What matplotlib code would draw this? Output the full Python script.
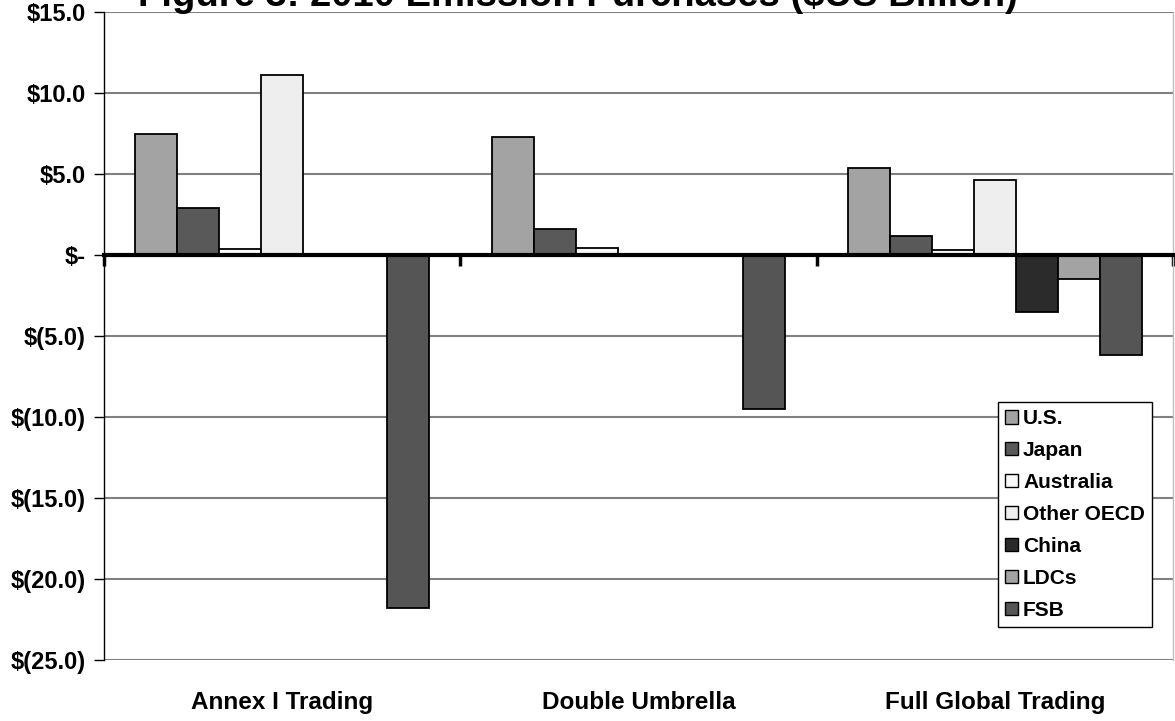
import matplotlib.pyplot as plt
import matplotlib.patches as mpatches
import numpy as np

# Dados (US$ mil milhões)
scenarios = ["Annex I Trading", "Double Umbrella", "Full Global Trading"]
regions = ["U.S.", "Japan", "Australia", "Other OECD", "China", "LDCs", "FSB"]
us = [7.45, 7.27, 5.34]
japan = [2.91, 1.60, 1.17]
australia = [0.39, 0.41, 0.30]
other_oecd = [11.13, 0.0, 4.66]
china = [0.0, 0.0, -3.53]
ldcs = [0.0, 0.0, -1.50]
fsb = [-21.8, -9.48, -6.16]
yticks = [15, 10, 5, 0, -5, -10, -15, -20, -25]
ytick_labels = ["$15.0", "$10.0", "$5.0", "$-", "$(5.0)", "$(10.0)",
                "$(15.0)", "$(20.0)", "$(25.0)"]

series = [us, japan, australia, other_oecd, china, ldcs, fsb]
colors = ["#a3a3a3", "#595959", "#f8f8f8", "#eeeeee", "#2b2b2b", "#a3a3a3", "#555555"]

plt.rcParams['font.family'] = ['Liberation Sans', 'DejaVu Sans']
plt.rcParams['font.weight'] = 'bold'

fig = plt.figure(figsize=(11.75, 7.21), dpi=100)
ax = fig.add_axes([104 / 1175, 1 - 660 / 721, 1069 / 1175, 648 / 721])

x = np.arange(len(scenarios))
w = 1 / 8.5
for i, (vals, c) in enumerate(zip(series, colors)):
    ax.bar(x + (i - 3) * w, vals, width=w, color=c, edgecolor="black",
           linewidth=1.3, zorder=3, label=regions[i])

ax.set_xlim(-0.5, 2.5)
ax.set_ylim(-25, 15)
ax.set_yticks(yticks)
ax.set_yticklabels(ytick_labels, fontsize=17, fontweight="bold")
ax.tick_params(axis="y", direction="out", length=7, width=1, pad=6)
ax.yaxis.grid(True, color="#808080", linewidth=1.5, zorder=0)

# eixo x na linha do zero, com marcas entre categorias
ax.spines["bottom"].set_position(("data", 0))
ax.spines["bottom"].set_linewidth(3)
ax.spines["bottom"].set_zorder(4)
ax.spines["top"].set_visible(False)
ax.spines["right"].set_color("#c0c0c0")
ax.spines["right"].set_linewidth(1)
ax.spines["left"].set_linewidth(1)
ax.set_xticks([-0.5, 0.5, 1.5, 2.5])
ax.set_xticklabels([])
ax.tick_params(axis="x", direction="out", length=8, width=2.5)

for xi, name in zip(x, scenarios):
    ax.text(xi, -0.066, name, transform=ax.get_xaxis_transform(),
            ha="center", va="center", fontsize=17.5, fontweight="bold")

fig.text(578 / 1175, 1 - 6 / 721, "Figure 3: 2010 Emission Purchases ($US Billion)",
         ha="center", va="baseline", fontsize=27.5, fontweight="bold")

handles = [mpatches.Patch(facecolor=c, edgecolor="black", label=r)
           for r, c in zip(regions, colors)]
leg = ax.legend(handles=handles, loc="upper left",
                bbox_to_anchor=(998 / 1175, 1 - 402 / 721),
                bbox_transform=fig.transFigure,
                prop={"size": 15, "weight": "bold"},
                handlelength=0.6, handleheight=0.6, handletextpad=0.25,
                labelspacing=0.62, borderpad=0.35, borderaxespad=0,
                fancybox=False, framealpha=1, edgecolor="black")
leg.get_frame().set_linewidth(1)

fig.savefig("out.png", dpi=100)
